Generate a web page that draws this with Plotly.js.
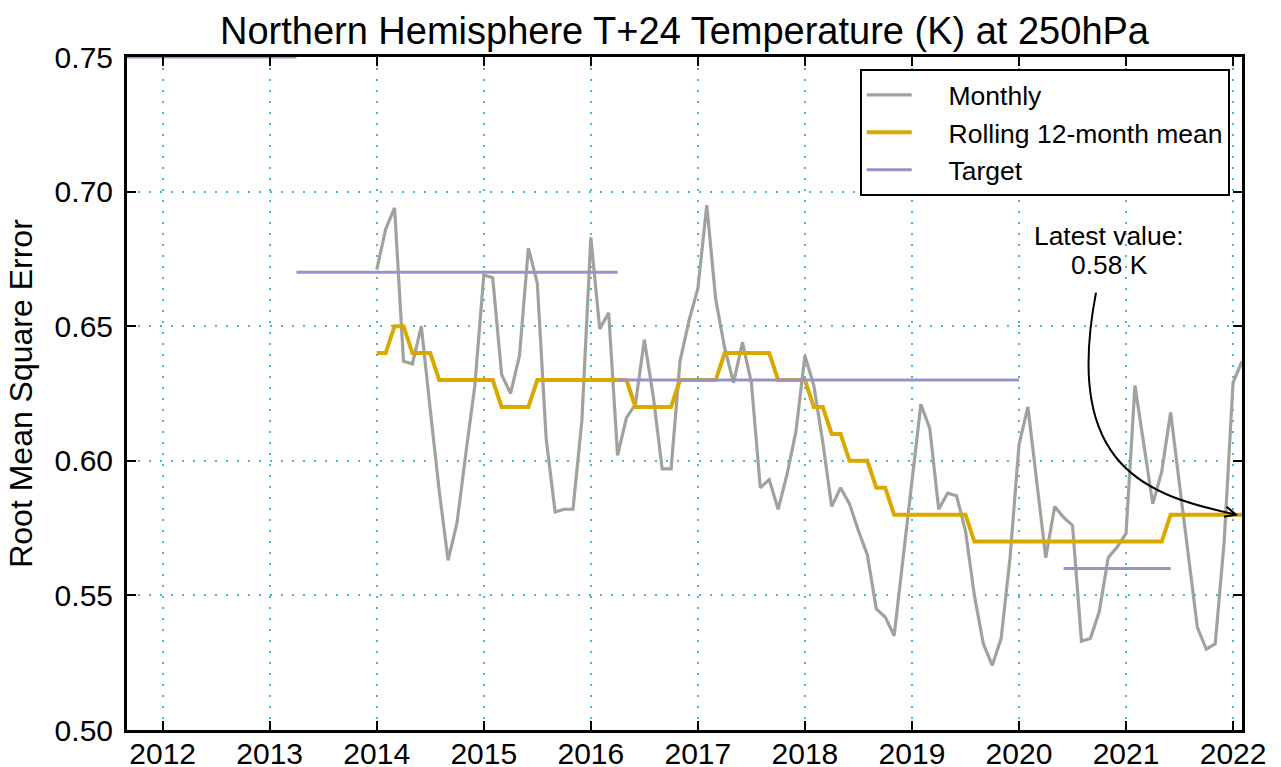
<!DOCTYPE html>
<html><head><meta charset="utf-8">
<script src="https://cdn.plot.ly/plotly-3.0.1.min.js"></script>
<style>html,body{margin:0;padding:0;background:#fff}#chart{width:1281px;height:767px}</style>
</head><body><div id="chart"></div>
<script>
// ---- data (monthly, starting January 2014) ----
const firstYear = 2014;
const monthly = [
  0.671, 0.686, 0.694, 0.637, 0.636, 0.650, 0.619, 0.589, 0.563, 0.577, 0.603, 0.628,
  0.669, 0.668, 0.632, 0.625, 0.639, 0.679, 0.666, 0.608, 0.581, 0.582, 0.582, 0.615,
  0.683, 0.649, 0.655, 0.602, 0.616, 0.621, 0.645, 0.624, 0.597, 0.597, 0.637, 0.652,
  0.664, 0.695, 0.660, 0.642, 0.629, 0.644, 0.629, 0.590, 0.593, 0.582, 0.595, 0.611,
  0.639, 0.628, 0.607, 0.583, 0.590, 0.584, 0.574, 0.565, 0.545, 0.542, 0.535, 0.564,
  0.593, 0.621, 0.612, 0.582, 0.588, 0.587, 0.574, 0.550, 0.532, 0.524, 0.534, 0.564,
  0.606, 0.620, 0.592, 0.564, 0.583, 0.579, 0.576, 0.533, 0.534, 0.544, 0.564, 0.568,
  0.573, 0.628, 0.606, 0.584, 0.596, 0.618, 0.591, 0.564, 0.538, 0.530, 0.532, 0.570,
  0.629, 0.637
];
const rolling = [
  0.64, 0.64, 0.65, 0.65, 0.64, 0.64, 0.64, 0.63, 0.63, 0.63, 0.63, 0.63,
  0.63, 0.63, 0.62, 0.62, 0.62, 0.62, 0.63, 0.63, 0.63, 0.63, 0.63, 0.63,
  0.63, 0.63, 0.63, 0.63, 0.63, 0.62, 0.62, 0.62, 0.62, 0.62, 0.63, 0.63,
  0.63, 0.63, 0.63, 0.64, 0.64, 0.64, 0.64, 0.64, 0.64, 0.63, 0.63, 0.63,
  0.63, 0.62, 0.62, 0.61, 0.61, 0.60, 0.60, 0.60, 0.59, 0.59, 0.58, 0.58,
  0.58, 0.58, 0.58, 0.58, 0.58, 0.58, 0.58, 0.57, 0.57, 0.57, 0.57, 0.57,
  0.57, 0.57, 0.57, 0.57, 0.57, 0.57, 0.57, 0.57, 0.57, 0.57, 0.57, 0.57,
  0.57, 0.57, 0.57, 0.57, 0.57, 0.58, 0.58, 0.58, 0.58, 0.58, 0.58, 0.58,
  0.58, 0.58
];
const targetValues = [0.75, 0.67, 0.63, 0.56];
const targetStarts = [2011.0, 2013.25, 2016.25, 2020.4167];
const targetEnds   = [2013.25, 2016.25, 2020.0, 2021.4167];
const xTickVals = [2012, 2013, 2014, 2015, 2016, 2017, 2018, 2019, 2020, 2021, 2022];
const yTickVals = [0.50, 0.55, 0.60, 0.65, 0.70, 0.75];
const seriesNames = ['Monthly', 'Rolling 12-month mean', 'Target'];
const latestLines = ["Latest value:", "0.58 K"];

// ---- derived ----
const months = monthly.map((_, i) => firstYear + i / 12);
const tx = [], ty = [];
targetValues.forEach((v, i) => { tx.push(targetStarts[i], targetEnds[i], null); ty.push(v, v, null); });

const W = 1281, H = 767;
const M = {l: 127, r: 39, t: 57, b: 37};
const xr = [2011.667, months[months.length - 1]];
const yr = [0.50, 0.75];
const pxX = (W - M.l - M.r) / (xr[1] - xr[0]);
const pxY = (H - M.t - M.b) / (yr[1] - yr[0]);
const FONT = '"Liberation Sans", Arial, Helvetica, sans-serif';

// annotation anchored at latest rolling value, offsets in pixels
const tipX = months[months.length - 1] - 6 / pxX;
const tipY = rolling[rolling.length - 1];
const P = (dx, dy) => (tipX + dx / pxX) + ',' + (tipY - dy / pxY);
const arrowPath = 'M' + P(-140, -222) + ' C' + P(-174, -44) + ' ' + P(-86, -19) + ' ' + P(0, 0) +
  ' M' + P(-9.5, -8) + ' L' + P(0, 0) + ' L' + P(-12, 2.2);

const gridCommon = {showgrid: true, gridcolor: '#3dbdd6', gridwidth: 2, griddash: '2px,9px'};
const pad = '\u2002\u2002\u2009';

const traces = [
  {x: months, y: monthly, name: pad + seriesNames[0], mode: 'lines', legendgroup: 'a',
   line: {color: '#a0a39b', width: 3.2}},
  {x: months, y: rolling, name: pad + seriesNames[1], mode: 'lines', legendgroup: 'b',
   line: {color: '#daa900', width: 4}},
  {x: tx, y: ty, name: pad + seriesNames[2], mode: 'lines', legendgroup: 'c', connectgaps: false,
   line: {color: '#9892cc', width: 3}}
];

const layout = {
  width: W, height: H, margin: M,
  paper_bgcolor: '#fff', plot_bgcolor: '#fff',
  font: {family: FONT, color: '#000', size: 25},
  title: {text: 'Northern Hemisphere T+24 Temperature (K) at 250hPa',
          font: {family: FONT, size: 38, color: '#000'},
          x: 0.5, xref: 'paper', xanchor: 'center', y: 1 - 31 / H, yanchor: 'middle'},
  xaxis: Object.assign({range: xr, tickvals: xTickVals, ticktext: xTickVals.map(String),
    ticks: 'inside', ticklen: 9, tickwidth: 2, tickcolor: '#000',
    showline: true, linecolor: '#000', linewidth: 3, mirror: 'ticks', zeroline: false,
    tickfont: {family: FONT, size: 30, color: '#000'}, ticklabelstandoff: -5}, gridCommon),
  yaxis: Object.assign({range: yr, tickvals: yTickVals, ticktext: yTickVals.map(v => v.toFixed(2)),
    ticks: 'inside', ticklen: 9, tickwidth: 2, tickcolor: '#000',
    showline: true, linecolor: '#000', linewidth: 3, mirror: 'ticks', zeroline: false,
    tickfont: {family: FONT, size: 30, color: '#000'}, ticklabelstandoff: 5,
    title: {text: 'Root Mean Square Error', font: {family: FONT, size: 32, color: '#000'}, standoff: 13}}, gridCommon),
  legend: {x: 0.989, xanchor: 'right', y: 0.982, yanchor: 'top',
    bgcolor: '#fff', bordercolor: '#000', borderwidth: 2,
    font: {family: FONT, size: 26.5, color: '#000'}, itemwidth: 45, tracegroupgap: 6,
    traceorder: 'normal'},
  shapes: [{type: 'path', xref: 'x', yref: 'y', path: arrowPath,
            line: {color: '#000', width: 2}, layer: 'above'}],
  annotations: latestLines.map((t, i) => ({
    text: t, xref: 'x', yref: 'y', showarrow: false,
    x: tipX - 127 / pxX, y: tipY + (279 - 29 * i) / pxY, xanchor: 'center', yanchor: 'middle',
    font: {family: FONT, size: 26.4, color: '#000'}
  }))
};

Plotly.newPlot('chart', traces, layout, {displayModeBar: false, staticPlot: true});
</script>
</body></html>
